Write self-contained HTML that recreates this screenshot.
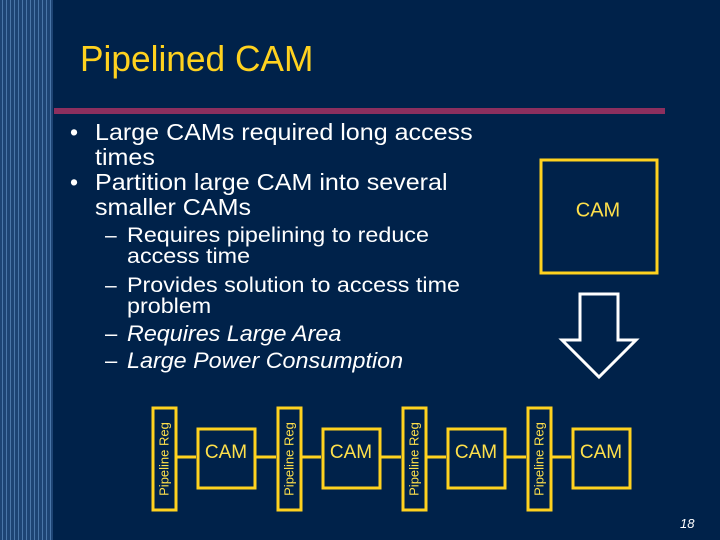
<!DOCTYPE html>
<html><head><meta charset="utf-8"><style>
html,body{margin:0;padding:0}
body{width:720px;height:540px;background:#00224a;position:relative;overflow:hidden;font-family:"Liberation Sans",sans-serif}
.stripes{position:absolute;left:0;top:0;width:53px;height:540px;background:repeating-linear-gradient(90deg,#1d4474 0px,#1d4474 2px,#4a76a8 2px,#4a76a8 3px,#1d4474 3px,#1d4474 4px)}
.t{position:absolute;white-space:nowrap;color:#fff;transform-origin:0 0}
</style></head><body>
<div class="stripes"></div>
<div class="t" style="left:80px;top:38px;font-size:36px;color:#ffd21f;transform:scaleX(0.98)">Pipelined CAM</div>
<div style="position:absolute;left:54px;top:108px;width:611px;height:6px;background:#8c2f5e"></div>
<div class="t" style="left:70px;top:120px;font-size:23px;line-height:25px">•</div>
<div class="t" style="left:70px;top:170px;font-size:23px;line-height:25px">•</div>
<div class="t" style="left:95px;top:120px;font-size:23px;line-height:25px;transform:scaleX(1.09)">Large CAMs required long access<br>times<br>Partition large CAM into several<br>smaller CAMs</div>
<div class="t" style="left:105px;top:225px;font-size:21px;line-height:21px">–</div>
<div class="t" style="left:105px;top:275px;font-size:21px;line-height:21px">–</div>
<div class="t" style="left:105px;top:321px;font-size:22px">–</div>
<div class="t" style="left:105px;top:348px;font-size:22px">–</div>
<div class="t" style="left:127px;top:225px;font-size:21px;line-height:21px;transform:scaleX(1.11)">Requires pipelining to reduce<br>access time</div>
<div class="t" style="left:127px;top:275px;font-size:21px;line-height:21px;transform:scaleX(1.11)">Provides solution to access time<br>problem</div>
<div class="t" style="left:127px;top:321px;font-size:22px;font-style:italic;transform:scaleX(1.06)">Requires Large Area</div>
<div class="t" style="left:127px;top:348px;font-size:22px;font-style:italic;transform:scaleX(1.06)">Large Power Consumption</div>
<svg width="720" height="540" style="position:absolute;left:0;top:0" font-family="Liberation Sans, sans-serif">
<rect x="541" y="160" width="116" height="113" fill="none" stroke="#ffd21f" stroke-width="3"/>
<text x="598" y="211" font-size="20" fill="#ffe04a" text-anchor="middle" dominant-baseline="middle">CAM</text>
<polygon points="580,294 618,294 618,340 636,340 599,377 562,340 580,340" fill="none" stroke="#fff" stroke-width="3"/>
<g stroke="#ffd21f" stroke-width="3" fill="none">
<rect x="153" y="408" width="23" height="102"/>
<rect x="278" y="408" width="23" height="102"/>
<rect x="403" y="408" width="23" height="102"/>
<rect x="528" y="408" width="23" height="102"/>
<rect x="198" y="429" width="57" height="59"/>
<rect x="323" y="429" width="57" height="59"/>
<rect x="448" y="429" width="57" height="59"/>
<rect x="573" y="429" width="57" height="59"/>
<line x1="176" y1="457" x2="196" y2="457"/>
<line x1="255" y1="457" x2="276" y2="457"/>
<line x1="301" y1="457" x2="321" y2="457"/>
<line x1="380" y1="457" x2="401" y2="457"/>
<line x1="426" y1="457" x2="446" y2="457"/>
<line x1="505" y1="457" x2="526" y2="457"/>
<line x1="551" y1="457" x2="571" y2="457"/>
</g>
<g fill="#ffe04a" font-size="19" text-anchor="middle" dominant-baseline="middle">
<text x="226" y="453">CAM</text><text x="351" y="453">CAM</text><text x="476" y="453">CAM</text><text x="601" y="453">CAM</text>
</g>
<g fill="#ffe04a" font-size="13" text-anchor="middle" dominant-baseline="middle">
<text transform="translate(165,459) rotate(-90)">Pipeline Reg</text>
<text transform="translate(290,459) rotate(-90)">Pipeline Reg</text>
<text transform="translate(415,459) rotate(-90)">Pipeline Reg</text>
<text transform="translate(540,459) rotate(-90)">Pipeline Reg</text>
</g>
<text x="680" y="528" font-size="13" font-style="italic" fill="#fff">18</text>
</svg>
</body></html>
